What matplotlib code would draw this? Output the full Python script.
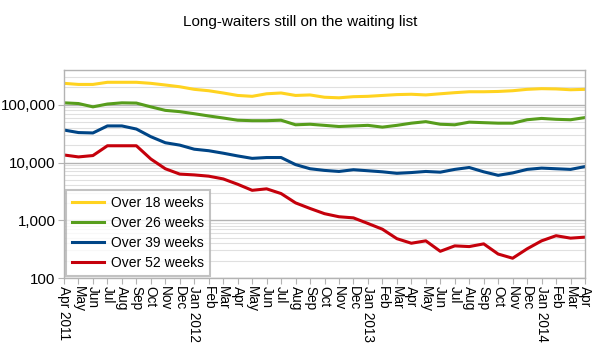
import matplotlib
matplotlib.use("Agg")
import matplotlib.pyplot as plt
from matplotlib.ticker import FixedLocator, FuncFormatter, LogLocator, NullFormatter

plt.rcParams['font.family'] = ['Liberation Sans', 'DejaVu Sans']

months = ["Apr 2011", "May", "Jun", "Jul", "Aug", "Sep", "Oct", "Nov", "Dec",
          "Jan 2012", "Feb", "Mar", "Apr", "May", "Jun", "Jul", "Aug", "Sep", "Oct", "Nov", "Dec",
          "Jan 2013", "Feb", "Mar", "Apr", "May", "Jun", "Jul", "Aug", "Sep", "Oct", "Nov", "Dec",
          "Jan 2014", "Feb", "Mar", "Apr"]

over18 = [235000, 225000, 225000, 245000, 245000, 245000, 235000, 220000, 205000,
          185000, 175000, 160000, 145000, 140000, 155000, 160000, 145000, 148000, 135000, 132000, 138000,
          140000, 145000, 150000, 152000, 148000, 155000, 162000, 168000, 168000, 170000, 175000, 185000,
          190000, 188000, 182000, 185000]
over26 = [108000, 105000, 92000, 103000, 108000, 107000, 92000, 80000, 76000,
          70000, 64000, 59000, 54000, 53000, 53000, 54000, 45000, 46000, 44000, 42000, 43000,
          44000, 41000, 44000, 48000, 51000, 46000, 45000, 50000, 49000, 48000, 48000, 55000,
          58000, 56000, 55000, 60000]
over39 = [36500, 33000, 32500, 43000, 43000, 38000, 28000, 22000, 20000,
          17000, 16000, 14500, 13000, 11800, 12200, 12200, 9200, 7800, 7300, 7000, 7500,
          7200, 6900, 6500, 6700, 7000, 6800, 7600, 8200, 6900, 6000, 6600, 7600,
          8000, 7800, 7600, 8500]
over52 = [13500, 12500, 13200, 19500, 19500, 19500, 11500, 7800, 6300,
          6100, 5800, 5200, 4200, 3300, 3500, 2900, 2000, 1600, 1300, 1150, 1100,
          880, 700, 480, 400, 440, 290, 360, 350, 390, 260, 220, 320,
          440, 540, 490, 510]

series = [("Over 18 weeks", over18, "#ffd320"),
          ("Over 26 weeks", over26, "#579d1c"),
          ("Over 39 weeks", over39, "#004586"),
          ("Over 52 weeks", over52, "#c5000b")]

fig = plt.figure(figsize=(5.95, 3.51), dpi=100)
ax = fig.add_axes([64/595, 73/351, 521/595, 208/351])

x = list(range(len(months)))
for name, vals, col in series:
    ax.plot(x, vals, color=col, lw=2.2, label=name, solid_joinstyle='round')

ax.set_yscale('log')
ax.set_ylim(100, 400000)
ax.set_xlim(0, len(months) - 1)

ax.yaxis.set_major_locator(FixedLocator([100, 1000, 10000, 100000]))
ax.yaxis.set_major_formatter(FuncFormatter(lambda v, p: f"{int(round(v)):,}"))
ax.yaxis.set_minor_locator(LogLocator(base=10, subs=range(2, 10)))
ax.yaxis.set_minor_formatter(NullFormatter())
ax.grid(True, which='major', axis='y', color='#b3b3b3', lw=1.0)
ax.grid(True, which='minor', axis='y', color='#e0e0e0', lw=0.8)
ax.set_axisbelow(True)

ax.set_xticks(x)
ax.set_xticklabels(months, rotation=270, fontsize=9.8)
ax.tick_params(axis='x', direction='out', length=4, color='#b3b3b3', pad=2)
ax.tick_params(axis='y', which='major', direction='out', length=4, color='#b3b3b3', labelsize=10.8, pad=2)
ax.tick_params(axis='y', which='minor', length=0)
for s in ax.spines.values():
    s.set_color('#b3b3b3')
    s.set_linewidth(1.0)

leg = ax.legend(loc='lower left', bbox_to_anchor=(0.0, 0.0), fontsize=10,
                frameon=True, fancybox=False, edgecolor='#b3b3b3', borderaxespad=0.15,
                handlelength=2.3, labelspacing=0.42, borderpad=0.45, handletextpad=0.5)
leg.get_frame().set_linewidth(1.5)
for l in leg.get_lines():
    l.set_linewidth(2.2)

fig.text(0.505, 0.937, "Long-waiters still on the waiting list", ha='center', va='center', fontsize=11)

fig.savefig("out.png", dpi=100)
